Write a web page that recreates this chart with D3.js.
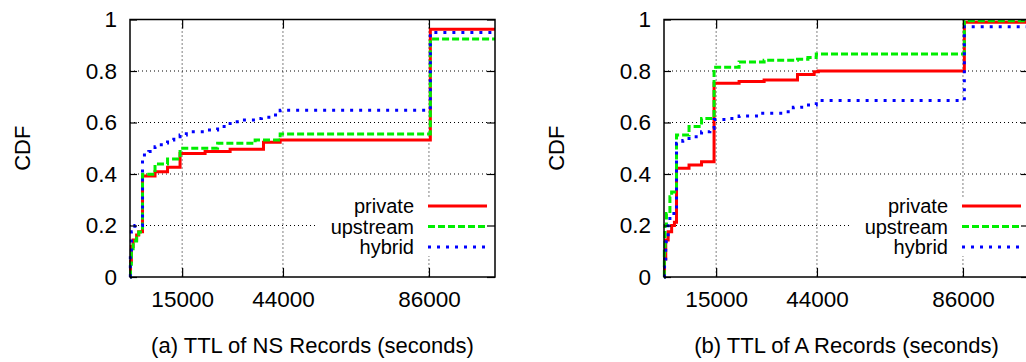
<!DOCTYPE html>
<html>
<head>
<meta charset="utf-8">
<script src="https://cdn.jsdelivr.net/npm/d3@7"></script>
<style>
    body { margin: 0; background: #fff; }
    svg { display: block; font-family: "Liberation Sans", Arial, Helvetica, sans-serif; }
</style>
</head>
<body>
<svg id="grafico" width="1026" height="362"></svg>
<script>
// TTL (seconds) vs CDF
var ttlTicks = [15000, 44000, 86000];
var cdfTicks = [0, 0.2, 0.4, 0.6, 0.8, 1];
var cdfGrid = [0.2, 0.4, 0.6, 0.8];
var ttlMax = 105000;
var seriesNames = ["private", "upstream", "hybrid"];
var captions = ["(a) TTL of NS Records (seconds)", "(b) TTL of A Records (seconds)"];

var nsPrivate = [[0, 0], [150, 0.06], [400, 0.118], [900, 0.144], [1900, 0.163], [2500, 0.176], [3600, 0.392],
    [7200, 0.409], [10800, 0.426], [14400, 0.48], [21600, 0.487], [28800, 0.496], [38400, 0.523],
    [43200, 0.532], [86400, 0.962], [105000, 0.962]];
var nsUpstream = [[0, 0], [150, 0.05], [400, 0.11], [900, 0.14], [1900, 0.16], [2500, 0.175], [3600, 0.399],
    [7200, 0.439], [10800, 0.458], [14400, 0.5], [25200, 0.519], [36000, 0.532], [43200, 0.555],
    [86400, 0.924], [105000, 0.924]];
var nsHybrid = [[0, 0], [100, 0.09], [400, 0.176], [1400, 0.2], [3600, 0.474], [5400, 0.487], [7200, 0.506],
    [9000, 0.52], [10800, 0.532], [12600, 0.545], [14400, 0.551], [16200, 0.564], [21600, 0.571],
    [25200, 0.584], [28800, 0.603], [32400, 0.61], [36000, 0.616], [37800, 0.62], [41400, 0.629],
    [43200, 0.648], [86400, 0.95], [105000, 0.95]];

var aPrivate = [[0, 0], [150, 0.07], [500, 0.144], [1200, 0.176], [2200, 0.2], [3000, 0.213], [3600, 0.422],
    [7200, 0.435], [10800, 0.448], [14400, 0.752], [21600, 0.759], [28800, 0.765], [38400, 0.786],
    [43200, 0.797], [44400, 0.8], [86400, 0.989], [105000, 0.989]];
var aUpstream = [[0, 0], [100, 0.1], [300, 0.2], [700, 0.247], [1700, 0.312], [2200, 0.33], [3600, 0.551],
    [7200, 0.584], [10800, 0.616], [14400, 0.815], [21600, 0.835], [28800, 0.842], [38400, 0.846],
    [41400, 0.852], [43800, 0.866], [86400, 0.995], [105000, 0.995]];
var aHybrid = [[0, 0], [150, 0.07], [500, 0.137], [1200, 0.221], [1700, 0.247], [3600, 0.519], [5400, 0.53],
    [7200, 0.545], [10800, 0.564], [13200, 0.577], [14400, 0.612], [18000, 0.616], [21600, 0.625],
    [26600, 0.636], [34800, 0.642], [37200, 0.659], [39600, 0.668], [43800, 0.685], [86400, 0.972],
    [105000, 0.972]];

var colores = ["#ff0000", "#00ee00", "#0000ff"];
var trazos = [null, "7,3", "3,6"];

var ancho = 365, alto = 257.5, margenSup = 19.5;

function drawPanel(svg, left, series, caption) {
    var g = svg.append("g")
        .attr("transform", "translate(" + left + "," + margenSup + ")");

    var x = d3.scaleLinear().domain([0, ttlMax]).range([0, ancho]);
    var y = d3.scaleLinear().domain([0, 1]).range([alto, 0]);

    // grid
    g.append("g").selectAll("line").data(cdfGrid).join("line")
        .attr("x1", 0).attr("x2", ancho)
        .attr("y1", d => y(d)).attr("y2", d => y(d))
        .attr("stroke", "#000").attr("stroke-width", 1).attr("stroke-dasharray", "1,3");
    g.append("g").selectAll("line").data(ttlTicks).join("line")
        .attr("x1", d => x(d)).attr("x2", d => x(d))
        .attr("y1", 0).attr("y2", alto)
        .attr("stroke", "#000").attr("stroke-width", 1).attr("stroke-dasharray", "1,3");

    var linea = d3.line()
        .curve(d3.curveStepAfter)
        .x(d => x(d[0]))
        .y(d => y(d[1]));

    series.forEach(function (s, i) {
        g.append("path")
            .datum(s)
            .attr("fill", "none")
            .attr("stroke", colores[i])
            .attr("stroke-width", 3)
            .attr("stroke-dasharray", trazos[i])
            .attr("d", linea);
    });

    // legend (white box hides grid)
    var leyenda = g.append("g");
    leyenda.append("rect")
        .attr("x", 187).attr("y", 177.5)
        .attr("width", ancho - 187).attr("height", 59)
        .attr("fill", "#fff");
    seriesNames.forEach(function (nombre, i) {
        var fy = 186.5 + i * 20.5;
        leyenda.append("text")
            .attr("x", 284).attr("y", fy).attr("dy", "0.35em")
            .attr("text-anchor", "end")
            .style("font-size", "20px")
            .text(nombre);
        leyenda.append("line")
            .attr("x1", 298).attr("x2", 357)
            .attr("y1", fy).attr("y2", fy)
            .attr("stroke", colores[i])
            .attr("stroke-width", 3)
            .attr("stroke-dasharray", trazos[i]);
    });

    // axes
    g.append("g")
        .call(d3.axisLeft(y).tickValues(cdfTicks).tickSize(-7).tickPadding(13).tickFormat(d3.format("~g")));
    g.append("g")
        .attr("transform", "translate(" + ancho + ",0)")
        .call(d3.axisRight(y).tickValues(cdfTicks).tickSize(-8).tickFormat(""));
    g.append("g")
        .attr("transform", "translate(0," + alto + ")")
        .call(d3.axisBottom(x).tickValues(ttlTicks).tickSize(-9).tickPadding(14).tickFormat(d3.format("d")));
    g.append("g")
        .call(d3.axisTop(x).tickValues(ttlTicks).tickSize(-9).tickFormat(""));

    g.selectAll(".domain").remove();
    g.selectAll(".tick line").attr("stroke", "#000").attr("stroke-width", 1.2);
    g.selectAll(".tick text").attr("fill", "#000").style("font-size", "22.5px");
    g.selectAll("g").attr("font-family", null).attr("font-size", null);

    g.append("rect")
        .attr("width", ancho).attr("height", alto)
        .attr("fill", "none").attr("stroke", "#000").attr("stroke-width", 1.5);

    g.append("text")
        .attr("transform", "translate(-108," + (alto / 2) + ") rotate(-90)")
        .attr("dy", "0.35em")
        .attr("text-anchor", "middle")
        .style("font-size", "22px")
        .text("CDF");

    g.append("text")
        .attr("x", ancho / 2).attr("y", 353 - margenSup)
        .attr("text-anchor", "middle")
        .style("font-size", "22px")
        .text(caption);
}

var svg = d3.select("#grafico");
drawPanel(svg, 130, [nsPrivate, nsUpstream, nsHybrid], captions[0]);
drawPanel(svg, 664, [aPrivate, aUpstream, aHybrid], captions[1]);
</script>
</body>
</html>
